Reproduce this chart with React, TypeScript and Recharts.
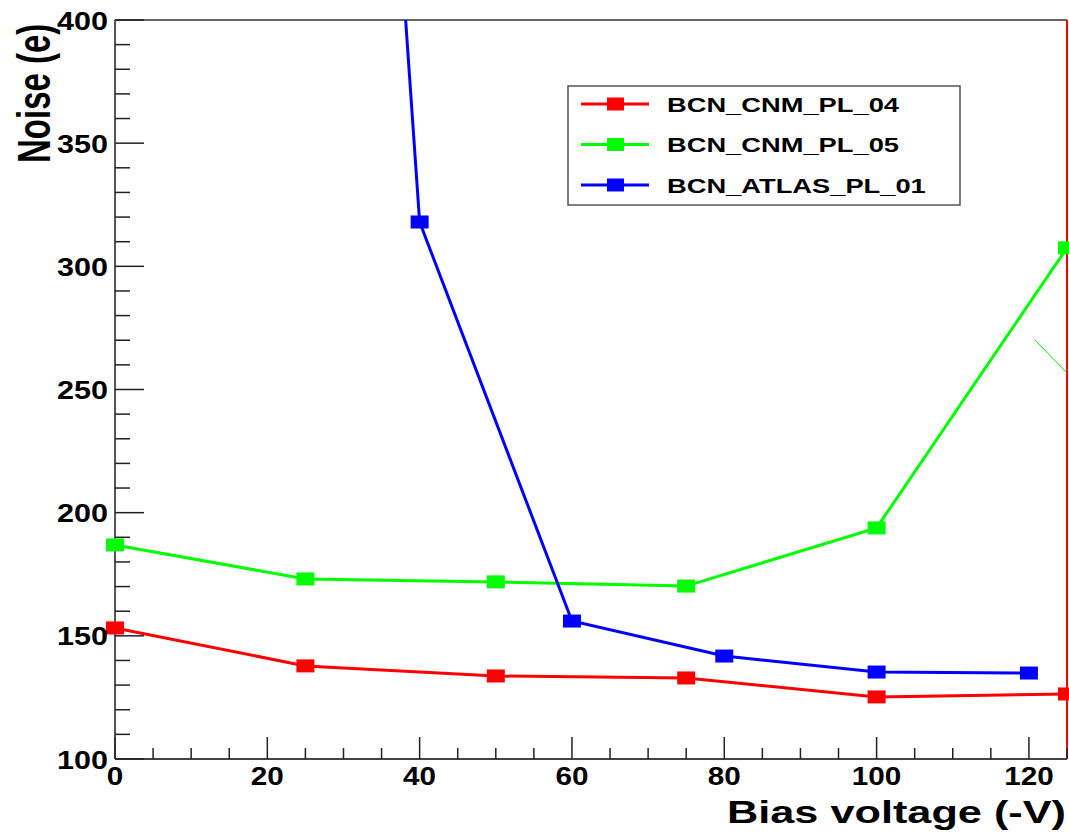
import { LineChart, Line, XAxis, YAxis, Legend, ReferenceLine, Label } from 'recharts'

// bias voltage (-V) / noise (e)
const bias04 = [0, 25, 50, 75, 100, 125]
const noise04 = [153.2, 137.8, 133.7, 132.9, 125.2, 126.4]
const bias05 = [0, 25, 50, 75, 100, 125]
const noise05 = [186.9, 173.1, 171.9, 170.2, 193.8, 307.5]
const biasAtlas = [20, 40, 60, 80, 100, 120]
const noiseAtlas = [1210, 318.0, 156.0, 141.8, 135.3, 134.9]
// thin stray green segment near the right edge
const biasStray = [120.8, 125]
const noiseStray = [270.1, 256.7]

const seriesNames = ['BCN_CNM_PL_04', 'BCN_CNM_PL_05', 'BCN_ATLAS_PL_01']

const xTicks = [0, 5, 10, 15, 20, 25, 30, 35, 40, 45, 50, 55, 60, 65, 70, 75, 80, 85, 90, 95, 100, 105, 110, 115, 120, 125]
const xMajor = [0, 20, 40, 60, 80, 100, 120]
const yTicks = [100, 110, 120, 130, 140, 150, 160, 170, 180, 190, 200, 210, 220, 230, 240, 250, 260, 270, 280, 290, 300, 310, 320, 330, 340, 350, 360, 370, 380, 390, 400]
const yMajor = [100, 150, 200, 250, 300, 350, 400]

const FONT = '"Liberation Sans", Arial, sans-serif'

const toPoints = (xs: number[], ys: number[]) => xs.map((x, i) => ({ x, y: ys[i] }))

const squareDot = (color: string) => (props: any) => {
  const { cx, cy, index } = props
  if (cx == null || cy == null) return <g key={`d-${index}`} />
  return <rect key={`d-${index}`} x={cx - 9} y={cy - 6.5} width={18} height={13} fill={color} />
}

const YTick = (props: any) => {
  const { x, y, payload } = props
  const v = payload.value
  const major = yMajor.includes(v)
  return (
    <g>
      <line x1={x} x2={x + (major ? 29 : 15)} y1={y} y2={y} stroke="#222" strokeWidth={1.5} />
      {major && (
        <text x={x - 7} y={y + 9.5} textAnchor="end" fontFamily={FONT} fontWeight="bold" fontSize={25}
          textLength={String(v).length * 17} lengthAdjust="spacingAndGlyphs" fill="#000">{v}</text>
      )}
    </g>
  )
}

const XTick = (props: any) => {
  const { x, y, payload } = props
  const v = payload.value
  const major = xMajor.includes(v)
  return (
    <g>
      <line x1={x} x2={x} y1={y} y2={y - (major ? 22 : 11)} stroke="#222" strokeWidth={1.5} />
      {major && (
        <text x={x} y={y + 26} textAnchor="middle" fontFamily={FONT} fontWeight="bold" fontSize={25}
          textLength={String(v).length * 16.5} lengthAdjust="spacingAndGlyphs" fill="#000">{v}</text>
      )}
    </g>
  )
}

const renderLegend = (props: any) => {
  const payload = (props.payload || [])
    .filter((p: any) => seriesNames.includes(p.value))
    .sort((a: any, b: any) => seriesNames.indexOf(a.value) - seriesNames.indexOf(b.value))
  return (
    <svg width={394} height={121} style={{ display: 'block' }}>
      <rect x={1} y={1} width={392} height={119} fill="#fff" stroke="#555" strokeWidth={1.5} />
      {payload.map((p: any, i: number) => {
        const cy = 19 + i * 40.5
        return (
          <g key={p.value}>
            <line x1={14} x2={82} y1={cy} y2={cy} stroke={p.color} strokeWidth={3} />
            <rect x={40} y={cy - 6.5} width={17} height={13} fill={p.color} />
            <text transform={`translate(100, ${cy + 7.5}) scale(1.3, 1)`} fontFamily={FONT} fontWeight="bold"
              fontSize={21} fill="#000">{p.value}</text>
          </g>
        )
      })}
    </svg>
  )
}

export default function App() {
  return (
    <div style={{ position: 'absolute', left: 0, top: 0, background: '#fff' }}>
      <LineChart width={1069} height={834} margin={{ top: 20, right: 2, bottom: 0, left: 0 }}>
        <XAxis type="number" dataKey="x" domain={[0, 125]} ticks={xTicks} interval={0}
          height={75} tickSize={0} tickMargin={0} tickLine={false} tick={XTick}
          axisLine={{ stroke: '#444', strokeWidth: 2 }}>
          <Label content={() => (
            <text x={727} y={823} textAnchor="start" fontFamily={FONT} fontWeight="bold" fontSize={31}
              textLength={339} lengthAdjust="spacingAndGlyphs" fill="#000">Bias voltage (-V)</text>
          )} />
        </XAxis>
        <YAxis yAxisId="clip" type="number" domain={[100, 400]} ticks={yTicks} interval={0} allowDataOverflow
          width={115} tickSize={0} tickMargin={0} tickLine={false} tick={YTick}
          axisLine={{ stroke: '#555', strokeWidth: 2 }}>
          <Label content={() => (
            <text transform="translate(50, 163) rotate(-90) scale(1, 1.4)" textAnchor="start" fontFamily={FONT}
              fontWeight="bold" fontSize={33} fill="#000">Noise (e)</text>
          )} />
        </YAxis>
        <YAxis yAxisId="free" type="number" domain={[100, 400]} hide />
        <ReferenceLine yAxisId="clip" y={400} stroke="#666" strokeWidth={2} />
        <Legend content={renderLegend} layout="vertical" align="center" verticalAlign="middle"
          wrapperStyle={{ left: 567, top: 85, width: 394, height: 121 }} />
        <Line yAxisId="free" data={toPoints(bias04, noise04)} dataKey="y" name="BCN_CNM_PL_04" stroke="#ff0000"
          strokeWidth={3} dot={squareDot('#ff0000')} activeDot={false} isAnimationActive={false} />
        <Line yAxisId="free" data={toPoints(bias05, noise05)} dataKey="y" name="BCN_CNM_PL_05" stroke="#00ff00"
          strokeWidth={3} dot={squareDot('#00ff00')} activeDot={false} isAnimationActive={false} />
        <Line yAxisId="clip" data={toPoints(biasAtlas, noiseAtlas)} dataKey="y" name="BCN_ATLAS_PL_01" stroke="#0000ff"
          strokeWidth={3} dot={squareDot('#0000ff')} activeDot={false} isAnimationActive={false} />
        <Line yAxisId="free" data={toPoints(biasStray, noiseStray)} dataKey="y" name="stray" legendType="none"
          stroke="#00ee00" strokeWidth={1} dot={false} activeDot={false} isAnimationActive={false} />
        <ReferenceLine yAxisId="clip" y={100} stroke="#ff0000" strokeWidth={1.5} />
        <ReferenceLine yAxisId="clip" x={125} stroke="#ff0000" strokeWidth={2} />
      </LineChart>
    </div>
  )
}
